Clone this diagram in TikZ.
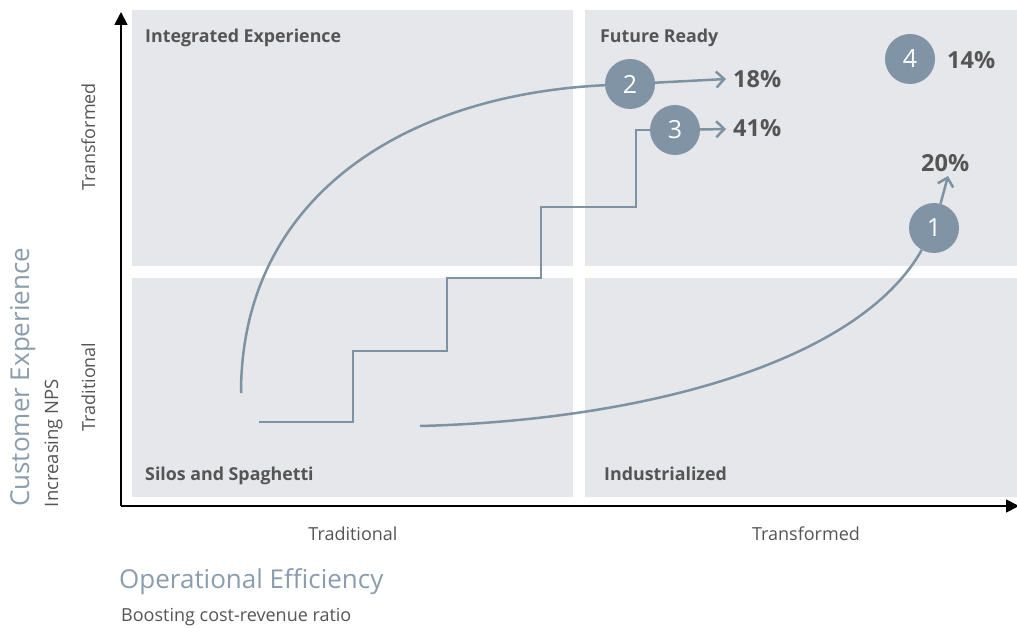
\documentclass[tikz,border=0pt]{standalone}
\usepackage{fontspec}
\setmainfont{Open Sans}
\usetikzlibrary{arrows.meta}
\definecolor{panelc}{HTML}{E6E7EB}
\definecolor{linec}{HTML}{7D92A2}
\definecolor{circc}{HTML}{8094A6}
\definecolor{textc}{HTML}{555555}
\definecolor{titlec}{HTML}{8A9CAE}
\tikzset{
  panel/.style={fill=panelc,draw=none},
  qlabel/.style={anchor=base west,inner sep=0pt,text=textc,font=\fontsize{17.8}{20}\selectfont\bfseries},
  axlabel/.style={anchor=base,inner sep=0pt,text=textc,font=\fontsize{18}{21}\selectfont},
  bigtitle/.style={inner sep=0pt,text=titlec,font=\fontsize{26}{30}\selectfont},
  numc/.style={circle,fill=circc,minimum size=50pt,inner sep=0pt,text=white,font=\fontsize{25}{28}\selectfont},
  pct/.style={anchor=base west,inner sep=0pt,text=textc,font=\fontsize{23.5}{26}\selectfont\bfseries},
  path/.style={draw=linec,line width=2.5pt},
  pathar/.style={path,-{Straight Barb[length=8pt,width=16pt,line width=2.5pt]}},
  axis/.style={line width=1.8pt,-{Triangle[length=13pt,width=13pt]}}
}
\begin{document}
\begin{tikzpicture}[x=1pt,y=-1pt]
\useasboundingbox (0,0) rectangle (1017,628);
% quadrants
\fill[panel] (132,10) rectangle (573,266);
\fill[panel] (585,10) rectangle (1017,266);
\fill[panel] (132,278) rectangle (573,497);
\fill[panel] (585,278) rectangle (1017,497);
% axes
\coordinate (O) at (121,506);
\coordinate (ytop) at (121,12);
\coordinate (xend) at (1019,506);
\draw[axis] (O) -- (ytop);
\draw[axis] (O) -- (xend);
% quadrant labels
\node[qlabel] (qi) at (145,43) {Integrated Experience};
\node[qlabel] (qf) at (600,43) {Future Ready};
\node[qlabel] (qs) at (145,480) {Silos and Spaghetti};
\node[qlabel] (qd) at (604,480) {Industrialized};
% axis labels
\node[axlabel,rotate=90] (yt) at (95,137) {Transformed};
\node[axlabel,rotate=90] (yd) at (95,387) {Traditional};
\node[axlabel,rotate=90,font=\fontsize{18.5}{21}\selectfont] (ynps) at (58,443) {Increasing NPS};
\node[bigtitle,rotate=90,anchor=base west] (yce) at (29,507) {Customer Experience};
\node[axlabel] (xd) at (353,540) {Traditional};
\node[axlabel] (xt) at (806,540) {Transformed};
\node[bigtitle,anchor=base west] (xoe) at (119,588) {Operational Efficiency};
\node[axlabel,anchor=base west] (xbc) at (121,621) {Boosting cost-revenue ratio};
% circles
\node[numc] (c1) at (934,228) {1};
\node[numc] (c2) at (630,84) {2};
\node[numc] (c3) at (675,130) {3};
\node[numc] (c4) at (910,59) {4};
% percentages
\node[pct] (p2) at (733,88) {18\%};
\node[pct] (p3) at (733,137) {41\%};
\node[pct] (p4) at (947,69) {14\%};
\node[pct] (p1) at (921,172) {20\%};
% path starts and tips
\coordinate (s1) at (420,426);
\coordinate (s2) at (241,393);
\coordinate (s3) at (259,422);
\coordinate (t1) at (948,176);
\coordinate (t2) at (726,79);
\coordinate (t3) at (726,129);
% paths
\draw[path] (s2) .. controls (241,200) and (400,95) .. (c2);
\draw[pathar] (c2) -- (t2);
\draw[path] (s3) -- (353,422) -- (353,351) -- (447,351) -- (447,278) -- (541,278) -- (541,207) -- (636,207) -- (636,130) -- (c3);
\draw[pathar] (c3) -- (t3);
\draw[path] (s1) .. controls (650,420) and (860,360) .. (c1);
\draw[pathar] (c1) -- (t1);
\end{tikzpicture}
\end{document}
